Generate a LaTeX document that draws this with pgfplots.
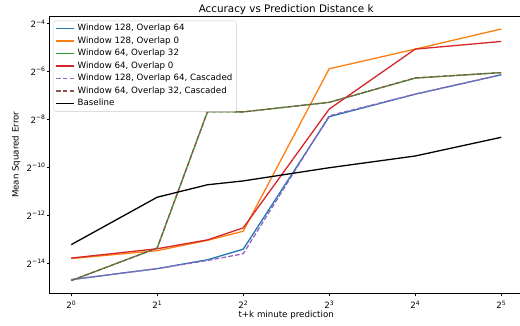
\documentclass[border=0pt]{standalone}
\usepackage{pgfplots}
\pgfplotsset{compat=1.18}
\usepackage{fontspec}
\setmainfont{DejaVu Sans}
\definecolor{tabblue}{HTML}{1F77B4}
\definecolor{taborange}{HTML}{FF7F0E}
\definecolor{tabgreen}{HTML}{2CA02C}
\definecolor{tabred}{HTML}{D62728}
\definecolor{tabpurple}{HTML}{9467BD}
\definecolor{tabbrown}{HTML}{8C564B}
\begin{document}
\begin{tikzpicture}
\useasboundingbox (-49.7bp,-32.7bp) rectangle (470.3bp,293.3bp);
\begin{axis}[
  at={(0,0)}, anchor=south west,
  scale only axis, width=473bp, height=277bp,
  xmode=log, log basis x=2, ymode=log, log basis y=2,
  xmin=0.8409, xmax=38.055, ymin=2.5663e-5, ymax=0.07748,
  xtick={1,2,4,8,16,32},
  xticklabels={2\textsuperscript{0},2\textsuperscript{1},2\textsuperscript{2},2\textsuperscript{3},2\textsuperscript{4},2\textsuperscript{5}},
  ytick={6.103515625e-05,2.44140625e-4,9.765625e-4,3.90625e-3,1.5625e-2,6.25e-2},
  yticklabels={2\textsuperscript{−14},2\textsuperscript{−12},2\textsuperscript{−10},2\textsuperscript{−8},2\textsuperscript{−6},2\textsuperscript{−4}},
  minor xtick={}, minor ytick={},
  tick align=outside, tick pos=left,
  major tick length=3bp,
  every tick/.style={black, line width=0.7bp},
  axis line style={line width=0.7bp},
  ticklabel style={font=\fontsize{8.7}{10.4}\selectfont},
  xticklabel style={anchor=base, inner sep=0pt, yshift=-12.7bp},
  yticklabel style={anchor=east, inner sep=0pt, xshift=-1bp},
  every axis title shift=0pt,
  title={Accuracy vs Prediction Distance k},
  title style={at={(axis description cs:0.5,1)}, anchor=base, inner sep=0pt, yshift=4.3bp, font=\fontsize{10.4}{12.5}\selectfont},
  xlabel={t+k minute prediction},
  xlabel style={at={(axis description cs:0.5,0)}, anchor=base, inner sep=0pt, yshift=-23.7bp, font=\fontsize{8.7}{10.4}\selectfont},
  ylabel={Mean Squared Error},
  ylabel style={at={(axis description cs:-0.0657,0.5)}, anchor=base, inner sep=0pt, font=\fontsize{8.7}{10.4}\selectfont},
  legend image code/.code={\draw[#1, line width=1.5bp, opacity=1] (0bp,0bp) -- (18.7bp,0bp);},
  legend cell align=left,
  legend style={at={(axis description cs:0.0076,0.984)}, anchor=north west,
    draw=black!20, rounded corners=2bp, fill=white, fill opacity=0.8, draw opacity=1, text opacity=1,
    font=\fontsize{8.7}{10.4}\selectfont, inner xsep=1.5bp, inner ysep=1.5bp,
    row sep=0bp, column sep=0bp,
    nodes={inner xsep=2.5bp, inner ysep=1.9bp, text height=6.6bp, text depth=2.1bp}},
  every axis plot/.append style={line width=1.3bp},
]
\addplot[color=tabblue] coordinates {(1,3.810e-5) (2,5.240e-5) (3,6.772e-5) (4,9.188e-5) (8,4.245e-3) (16,8.144e-3) (32,0.014278)};
\addlegendentry{Window 128, Overlap 64}
\addplot[color=taborange] coordinates {(1,7.011e-5) (2,8.813e-5) (3,1.1874e-4) (4,1.5452e-4) (8,0.016981) (16,0.029978) (32,0.053663)};
\addlegendentry{Window 128, Overlap 0}
\addplot[color=tabgreen] coordinates {(1,3.706e-5) (2,9.512e-5) (3,4.910e-3) (4,4.877e-3) (8,6.434e-3) (16,0.012958) (32,0.015198)};
\addlegendentry{Window 64, Overlap 32}
\addplot[color=tabred] coordinates {(1,7.11e-5) (2,9.315e-5) (3,1.2038e-4) (4,1.7027e-4) (8,5.299e-3) (16,0.029978) (32,0.037419)};
\addlegendentry{Window 64, Overlap 0}
\addplot[color=tabpurple, dash pattern=on 4.8bp off 2.1bp] coordinates {(1,3.810e-5) (2,5.240e-5) (3,6.633e-5) (4,8.054e-5) (8,4.364e-3) (16,8.144e-3) (32,0.014278)};
\addlegendentry{Window 128, Overlap 64, Cascaded}
\addplot[color=tabbrown, dash pattern=on 4.8bp off 2.1bp] coordinates {(1,3.706e-5) (2,9.512e-5) (3,4.910e-3) (4,4.877e-3) (8,6.434e-3) (16,0.013050) (32,0.015198)};
\addlegendentry{Window 64, Overlap 32, Cascaded}
\addplot[color=black] coordinates {(1,1.0481e-4) (2,4.1343e-4) (3,5.929e-4) (4,6.624e-4) (8,9.698e-4) (16,1.3621e-3) (32,2.3387e-3)};
\addlegendentry{Baseline}
\end{axis}
\end{tikzpicture}
\end{document}
